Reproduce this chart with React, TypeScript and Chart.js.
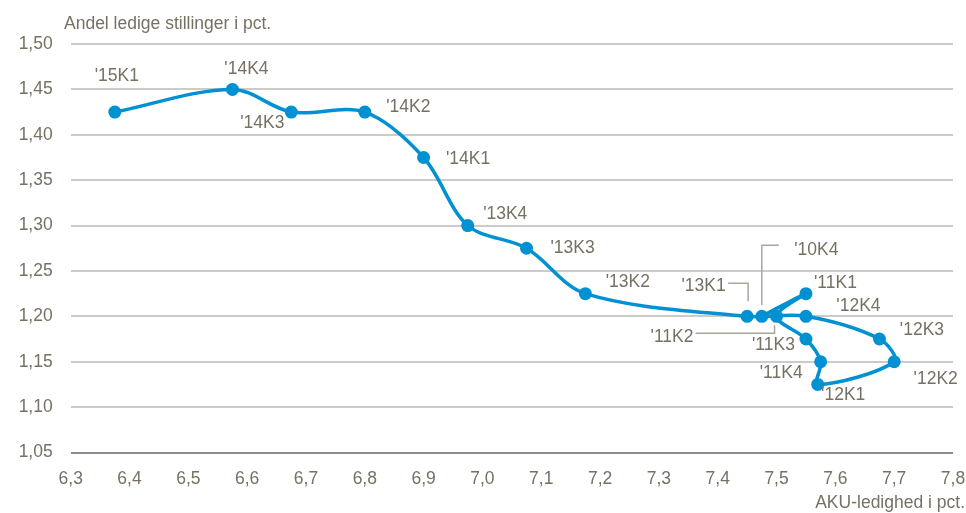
import React, { useEffect, useRef } from "react";
import { Chart, registerables } from "chart.js";

Chart.register(...registerables);

// Quarter labels in chronological order
const quarters = [
  "'10K4", "'11K1", "'11K2", "'11K3", "'11K4",
  "'12K1", "'12K2", "'12K3", "'12K4",
  "'13K1", "'13K2", "'13K3", "'13K4",
  "'14K1", "'14K2", "'14K3", "'14K4", "'15K1",
];
// AKU-ledighed i pct. (x)
const unemployment = [
  7.475, 7.55, 7.5, 7.55, 7.575,
  7.57, 7.7, 7.675, 7.55,
  7.45, 7.175, 7.075, 6.975,
  6.9, 6.8, 6.675, 6.575, 6.375,
];
// Andel ledige stillinger i pct. (y)
const vacancies = [
  1.2, 1.225, 1.2, 1.175, 1.15,
  1.125, 1.15, 1.175, 1.2,
  1.2, 1.225, 1.275, 1.3,
  1.375, 1.425, 1.425, 1.45, 1.425,
];

const xTitle = "AKU-ledighed i pct.";
const yTitle = "Andel ledige stillinger i pct.";

// label placement (style): text-centre offset from the point, optional leader path (offsets from point)
const labelOffsets: { dx: number; dy: number; leader?: number[][] }[] = [
  { dx: 54.5, dy: -66, leader: [[0, -11], [0, -71], [17, -71]] },
  { dx: 29.5, dy: -10 },
  { dx: -104.5, dy: 21, leader: [[-2, 9], [-2, 17], [-81, 17]] },
  { dx: -32.5, dy: 6 },
  { dx: -39.5, dy: 11 },
  { dx: 25.5, dy: 11 },
  { dx: 41.5, dy: 17 },
  { dx: 42.5, dy: -9 },
  { dx: 52.5, dy: -10 },
  { dx: -43.5, dy: -30, leader: [[1, -15], [1, -33], [-19, -33]] },
  { dx: 42.5, dy: -11 },
  { dx: 46, dy: 0 },
  { dx: 37.5, dy: -11 },
  { dx: 44.5, dy: 2 },
  { dx: 43.5, dy: -5 },
  { dx: -29, dy: 11 },
  { dx: 14, dy: -20 },
  { dx: 2, dy: -36 },
];

const FONT = "'Liberation Sans', Arial, sans-serif";
const TEXT = "#767163";
const BLUE = "#0091d2";

const labelPlugin = {
  id: "pointLabels",
  afterDatasetsDraw(chart: any) {
    const ctx = chart.ctx;
    const meta = chart.getDatasetMeta(0);
    ctx.save();
    ctx.font = `17.5px ${FONT}`;
    ctx.fillStyle = TEXT;
    ctx.textAlign = "center";
    ctx.textBaseline = "middle";
    meta.data.forEach((pt: any, i: number) => {
      const o = labelOffsets[i];
      if (o.leader) {
        ctx.beginPath();
        ctx.strokeStyle = "#a9a69c";
        ctx.lineWidth = 1.5;
        o.leader.forEach((p, j) => {
          if (j === 0) ctx.moveTo(pt.x + p[0], pt.y + p[1]);
          else ctx.lineTo(pt.x + p[0], pt.y + p[1]);
        });
        ctx.stroke();
      }
      ctx.fillText(quarters[i], pt.x + o.dx, pt.y + o.dy);
    });
    ctx.restore();
  },
};

const titlePlugin = {
  id: "axisTitles",
  afterDraw(chart: any) {
    const ctx = chart.ctx;
    ctx.save();
    ctx.font = `17.5px ${FONT}`;
    ctx.fillStyle = TEXT;
    ctx.textBaseline = "middle";
    ctx.textAlign = "left";
    ctx.fillText(yTitle, 64, 24);
    ctx.textAlign = "right";
    ctx.fillText(xTitle, 965, 503);
    ctx.restore();
  },
};

export default function App() {
  const ref = useRef<HTMLCanvasElement>(null);
  useEffect(() => {
    if (!ref.current) return;
    const chart = new Chart(ref.current, {
      type: "scatter",
      data: {
        datasets: [
          {
            data: unemployment.map((x, i) => ({ x, y: vacancies[i] })),
            showLine: true,
            borderColor: BLUE,
            backgroundColor: BLUE,
            borderWidth: 3.5,
            pointRadius: 6.5,
            pointBorderWidth: 0,
            pointBackgroundColor: BLUE,
            tension: 0.33,
          },
        ],
      },
      options: {
        responsive: false,
        animation: false,
        devicePixelRatio: 1,
        layout: { padding: { top: 44, right: 13, bottom: 0, left: 0 } },
        plugins: { legend: { display: false }, tooltip: { enabled: false } },
        scales: {
          x: {
            type: "linear",
            min: 6.3,
            max: 7.8,
            grid: { display: false, drawTicks: false },
            border: { display: false },
            ticks: {
              stepSize: 0.1,
              padding: 16,
              color: TEXT,
              font: { family: FONT, size: 17.5 },
              maxRotation: 0,
              autoSkip: false,
              callback: (v: any) => Number(v).toFixed(1).replace(".", ","),
            },
            afterFit: (s: any) => {
              s.height = 60.5;
              s.paddingLeft = 0;
              s.paddingRight = 0;
            },
          },
          y: {
            type: "linear",
            min: 1.05,
            max: 1.5,
            grid: {
              drawTicks: false,
              lineWidth: 2,
              color: (c: any) => (c.index === 0 ? "#8c8c8c" : "#cbcbcb"),
            },
            border: { display: false },
            ticks: {
              stepSize: 0.05,
              padding: 18,
              color: TEXT,
              font: { family: FONT, size: 17.5 },
              callback: (v: any) => Number(v).toFixed(2).replace(".", ","),
            },
            afterFit: (s: any) => {
              s.width = 70.7;
            },
          },
        },
      },
      plugins: [labelPlugin, titlePlugin],
    });
    return () => chart.destroy();
  }, []);
  return (
    <div style={{ position: "absolute", left: 0, top: 0, width: 966, height: 513 }}>
      <canvas ref={ref} width={966} height={513} style={{ display: "block" }} />
    </div>
  );
}
